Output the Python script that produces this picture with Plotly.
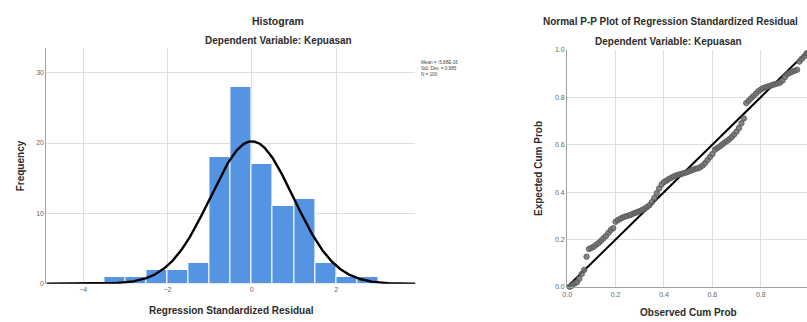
import numpy as np
import plotly.graph_objects as go

# ---------------- data ----------------
bin_left = [-3.5, -3.0, -2.5, -2.0, -1.5, -1.0, -0.5, 0.0, 0.5, 1.0, 1.5, 2.0, 2.5]
counts = [1, 1, 2, 2, 3, 18, 28, 17, 11, 12, 3, 1, 1]
bin_width = 0.5
mean_val = -5.88e-16
sd_val = 0.985
n_val = 100

hist_xticks = [-4, -2, 0, 2]
hist_yticks = [0, 10, 20, 30]

observed_cum = [i / 100 for i in range(1, 101)]
expected_cum = [
    0.001, 0.006, 0.015, 0.020, 0.035, 0.055, 0.072, 0.128, 0.160, 0.165,
    0.170, 0.178, 0.185, 0.195, 0.205, 0.215, 0.228, 0.240, 0.248, 0.275,
    0.282, 0.288, 0.293, 0.297, 0.300, 0.303, 0.308, 0.312, 0.316, 0.320,
    0.325, 0.330, 0.337, 0.345, 0.358, 0.375, 0.395, 0.415, 0.432, 0.442,
    0.448, 0.455, 0.460, 0.466, 0.470, 0.473, 0.476, 0.479, 0.482, 0.486,
    0.490, 0.494, 0.498, 0.500, 0.505, 0.512, 0.522, 0.535, 0.548, 0.560,
    0.578, 0.585, 0.592, 0.600, 0.608, 0.615, 0.623, 0.632, 0.643, 0.655,
    0.670, 0.690, 0.710, 0.775, 0.785, 0.795, 0.805, 0.815, 0.825, 0.832,
    0.838, 0.842, 0.845, 0.848, 0.852, 0.855, 0.858, 0.862, 0.870, 0.885,
    0.897, 0.903, 0.907, 0.911, 0.915, 0.950, 0.962, 0.972, 0.985, 0.996,
]
pp_ticks = [0.0, 0.2, 0.4, 0.6, 0.8, 1.0]

# ---------------- figure ----------------
W, H = 807, 322
FONT = "Liberation Sans, Arial, sans-serif"
BAR = "#5594e2"
GRID = "#dedede"
AXIS = "#a0a0a0"
TICK = "#666666"
TXT = "#2b2b2b"

def px_x(p):
    return p / W

def px_y(p):
    return 1 - p / H

fig = go.Figure()

centers = [b + bin_width / 2 for b in bin_left]
fig.add_trace(go.Bar(
    x=centers, y=counts, width=bin_width,
    marker=dict(color=BAR, line=dict(color="white", width=1)),
    xaxis="x", yaxis="y", showlegend=False, hoverinfo="skip",
))

xr = (-4.87, 3.88)
xs = np.linspace(xr[0], xr[1], 400)
ys = n_val * bin_width * np.exp(-0.5 * ((xs - mean_val) / sd_val) ** 2) / (sd_val * np.sqrt(2 * np.pi))
fig.add_trace(go.Scatter(
    x=xs, y=ys, mode="lines", line=dict(color="black", width=2.4),
    xaxis="x", yaxis="y", showlegend=False, hoverinfo="skip", cliponaxis=False,
))

# P-P plot
fig.add_trace(go.Scatter(
    x=[0, 1], y=[0, 1], mode="lines", line=dict(color="black", width=2),
    xaxis="x2", yaxis="y2", showlegend=False, hoverinfo="skip",
))
fig.add_trace(go.Scatter(
    x=observed_cum, y=expected_cum, mode="markers",
    marker=dict(color="rgba(112,112,112,0.85)", size=5.5, line=dict(color="#555555", width=0.8)),
    xaxis="x2", yaxis="y2", showlegend=False, hoverinfo="skip", cliponaxis=False,
))

tickfont = dict(family=FONT, size=7, color=TICK)

fig.update_layout(
    width=W, height=H, margin=dict(l=0, r=0, t=0, b=0),
    paper_bgcolor="white", plot_bgcolor="white",
    bargap=0,
    xaxis=dict(domain=[px_x(41.7), px_x(413)], range=list(xr), tickvals=hist_xticks,
               showgrid=True, gridcolor=GRID, gridwidth=1, zeroline=False,
               showline=False, ticks="", tickfont=tickfont, anchor="y"),
    yaxis=dict(domain=[px_y(286), px_y(45)], range=[0, 33.5], tickvals=hist_yticks,
               showgrid=True, gridcolor=GRID, gridwidth=1, zeroline=False,
               showline=True, linecolor=AXIS, linewidth=1.2, ticks="",
               tickfont=tickfont, anchor="x"),
    xaxis2=dict(domain=[px_x(565.7), 1.0], range=[0, (W - 565.7) / 243.5],
                tickvals=pp_ticks[:-1], ticktext=["0.0", "0.2", "0.4", "0.6", "0.8"],
                showgrid=True, gridcolor=GRID, gridwidth=1, zeroline=False,
                showline=True, linecolor=AXIS, linewidth=1.2, ticks="",
                tickfont=tickfont, anchor="y2"),
    yaxis2=dict(domain=[px_y(289.3), px_y(46.7)], range=[0, 1],
                tickvals=pp_ticks, ticktext=["0.0", "0.2", "0.4", "0.6", "0.8", "1.0"],
                showgrid=True, gridcolor=GRID, gridwidth=1, zeroline=False,
                showline=True, linecolor=AXIS, linewidth=1.2, ticks="",
                tickfont=tickfont, anchor="x2"),
)

# base line of histogram
fig.add_shape(type="line", xref="x", yref="y", x0=xr[0], x1=xr[1], y0=0, y1=0,
              line=dict(color=AXIS, width=1.2), layer="below")

def ann(text, x, y, size, bold=True, angle=0, xanchor="center", color=TXT):
    fig.add_annotation(
        text=f"<b>{text}</b>" if bold else text,
        x=px_x(x), y=px_y(y), xref="paper", yref="paper",
        showarrow=False, xanchor=xanchor, yanchor="middle", textangle=angle,
        font=dict(family=FONT, size=size, color=color),
    )

ann("Histogram", 275, 17, 10.5)
ann("Dependent Variable: Kepuasan", 275, 37, 10)
ann("Normal P-P Plot of Regression Standardized Residual", 670, 18, 10)
ann("Dependent Variable: Kepuasan", 668, 38, 10)
ann("Frequency", 16, 165, 10, angle=-90)
ann("Regression Standardized Residual", 228, 313, 10)
ann("Expected Cum Prob", 537, 168, 10, angle=-90)
ann("Observed Cum Prob", 688, 315, 10)

stats_text = (f"Mean = {mean_val:.2E}<br>Std. Dev. = {sd_val}<br>N = {n_val}")
fig.add_annotation(
    text=stats_text, x=px_x(417), y=px_y(65.5), xref="paper", yref="paper",
    showarrow=False, xanchor="left", yanchor="middle", align="left",
    font=dict(family=FONT, size=4.6, color="#444"),
)

# clipped "1.0" tick at the right edge of the P-P plot
fig.add_annotation(text="1.0", x=1.0, y=0, xref="x2", yref="y2", yshift=-10,
                   showarrow=False, xanchor="center", yanchor="middle",
                   font=tickfont)

fig.write_html("out.html")
